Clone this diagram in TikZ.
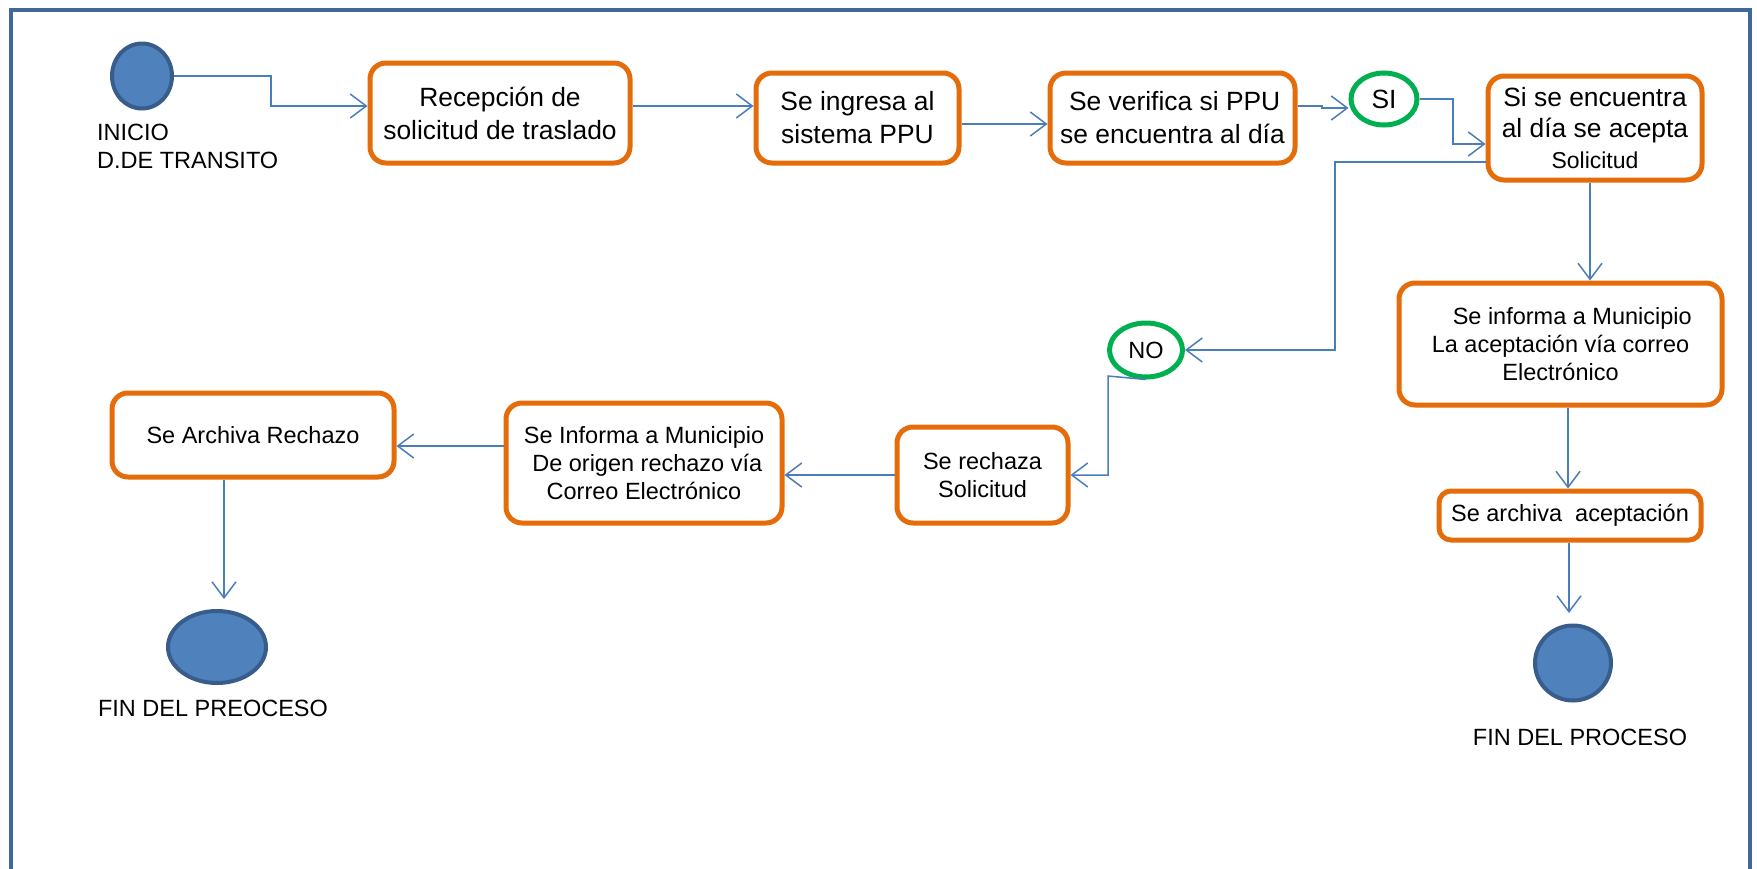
\documentclass[tikz,border=0pt]{standalone}
\usepackage{fontspec}
\setmainfont{Liberation Sans}
\usetikzlibrary{arrows.meta,shapes.geometric}
\definecolor{orangeb}{HTML}{E46C0A}
\definecolor{linec}{HTML}{4A7EBB}
\definecolor{framec}{HTML}{41689A}
\definecolor{circfill}{HTML}{4F81BD}
\definecolor{circdraw}{HTML}{385D8A}
\definecolor{greenc}{HTML}{00B050}
\tikzset{
  box/.style={draw=orangeb, line width=5pt, rounded corners=16pt, fill=white, inner sep=0pt, align=center},
  big/.style={font=\fontsize{26.4}{33}\selectfont},
  mid/.style={font=\fontsize{23.5}{28}\selectfont},
  dec/.style={ellipse, draw=greenc, line width=5pt, inner sep=0pt, fill=white},
  term/.style={ellipse, draw=circdraw, line width=4pt, fill=circfill, inner sep=0pt},
  arr/.style={draw=linec, line width=1.5pt, -{Straight Barb[length=16pt,width=24pt,line width=1.5pt]}},
  lbl/.style={inner sep=0pt, font=\fontsize{23.5}{28}\selectfont}
}
\begin{document}
\begin{tikzpicture}[x=1pt,y=-1pt]
\useasboundingbox (0,0) rectangle (1757,868);
\fill[white] (0,0) rectangle (1757,868);
\draw[framec, line width=3.5pt] (11,875) -- (11,10) -- (1750,10) -- (1750,875);

% nodes
\node[term, minimum width=60pt, minimum height=65pt] (start) at (142,76) {};
\node[lbl, anchor=west, align=left] (inicio) at (97,146) {INICIO\\D.DE TRANSITO};
\node[box, big, minimum width=260pt, minimum height=100pt] (b1) at (500,113) {Recepción de\\solicitud de traslado};
\node[box, big, minimum width=203pt, minimum height=90pt] (b2) at (857.5,118) {Se ingresa al\\sistema PPU};
\node[box, big, minimum width=245pt, minimum height=90pt] (b3) at (1172.5,118) {\,Se verifica si PPU\\se encuentra al día};
\node[dec, big, minimum width=66pt, minimum height=52pt] (SI) at (1384,99) {SI};
\node[box, font=\fontsize{26.4}{31}\selectfont, minimum width=214pt, minimum height=104pt] (b4) at (1595,128) {Si se encuentra\\al día se acepta\\{\fontsize{23}{29}\selectfont Solicitud}};
\node[box, mid, minimum width=323pt, minimum height=122pt] (b5) at (1560.5,344) {\quad Se informa a Municipio\\La aceptación vía correo\\Electrónico};
\node[box, mid, minimum width=262pt, minimum height=49pt, rounded corners=12pt] (b6) at (1570,515.5) {Se archiva\ \ aceptación};
\node[term, minimum width=76pt, minimum height=75pt] (endR) at (1573,663) {};
\node[lbl] (finR) at (1580,737) {FIN DEL PROCESO};
\node[dec, mid, minimum width=73pt, minimum height=54pt] (NO) at (1146,350) {NO};
\node[box, mid, minimum width=171pt, minimum height=96pt] (rech) at (982.5,475) {Se rechaza\\Solicitud};
\node[box, mid, minimum width=276pt, minimum height=120pt] (inf) at (644,463) {Se Informa a Municipio\\\ De origen rechazo vía\\Correo Electrónico};
\node[box, mid, minimum width=282pt, minimum height=84pt] (archR) at (253,435) {Se Archiva Rechazo};
\node[term, minimum width=98pt, minimum height=72pt] (endL) at (217,647) {};
\node[lbl] (finL) at (213,708) {FIN DEL PREOCESO};

% bend coordinates
\coordinate (c1) at (271,106);
\coordinate (c2) at (0,124);
\coordinate (c3) at (1322,106);
\coordinate (c4) at (1322,108);
\coordinate (c5) at (1453,144);
\coordinate (c6) at (1335,162);
\coordinate (c7) at (1335,350);
\coordinate (c8) at (1108,376);
\coordinate (c9) at (1108,475);
\coordinate (c10) at (0,446);
\coordinate (c11) at (224,599);
\coordinate (c12) at (1590,0);
\coordinate (c13) at (1568,0);
\coordinate (c14) at (1569,613);

% connectors
\draw[arr] (start.east) -| (c1) -- (b1.west |- c1);
\draw[arr] (b1.east |- c1) -- (b2.west |- c1);
\draw[arr] (b2.east |- c2) -- (b3.west |- c2);
\draw[arr] (b3.east |- c3) -- (c3) -- (c4) -- (SI.west |- c4);
\draw[arr] (SI.east) -| (c5) -- (b4.west |- c5);
\draw[arr] (b4.west |- c6) -- (c6) -- (c7) -- (NO.east);
\draw[arr] (NO.south) -- (c8) -- (c9) -- (rech.east |- c9);
\draw[arr] (rech.west) -- (inf.east |- rech.west);
\draw[arr] (inf.west |- c10) -- (archR.east |- c10);
\draw[arr] (archR.south -| c11) -- (c11);
\draw[arr] (b4.south -| c12) -- (b5.north -| c12);
\draw[arr] (b5.south -| c13) -- (b6.north -| c13);
\draw[arr] (b6.south -| c14) -- (c14);
\end{tikzpicture}
\end{document}
